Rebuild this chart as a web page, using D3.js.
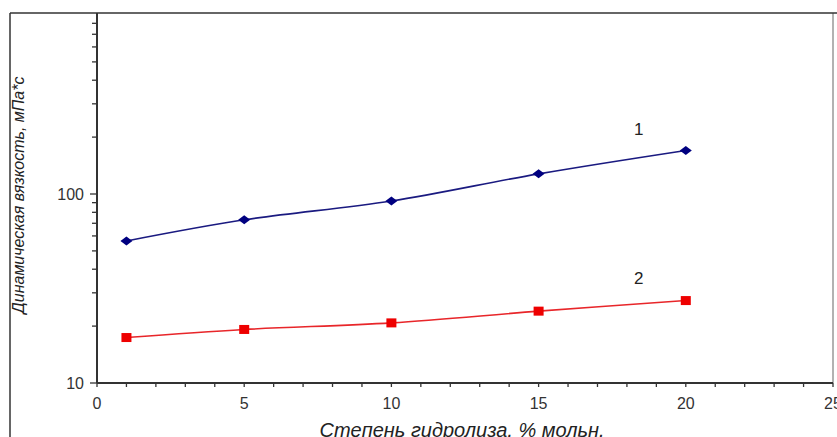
<!DOCTYPE html>
<html><head><meta charset="utf-8">
<script src="https://cdn.jsdelivr.net/npm/d3@7"></script>
<style>body{margin:0;background:#fff}svg{display:block}</style>
</head><body><svg id="c" width="837" height="437"></svg>
<script>
const xValues = [1, 5, 10, 15, 20];
const series1 = [56.4, 73, 91.8, 127.8, 170];
const series2 = [17.4, 19.2, 20.8, 24.0, 27.3];
const seriesLabels = ["1", "2"];
const xTicks = [0, 5, 10, 15, 20, 25];
const yTicks = [10, 100];
const xTitle = "Степень гидролиза, % мольн.";
const yTitle = "Динамическая вязкость, мПа*с";

const svg = d3.select("#c");
const x = d3.scaleLinear().domain([0, 25]).range([97, 833]);
const y = d3.scaleLog().domain([10, 1000]).range([383, 5]);
const font = "'Liberation Sans', Arial, sans-serif";

// right plot border
svg.append("line").attr("x1", 833).attr("x2", 833).attr("y1", 13).attr("y2", 383)
  .attr("stroke", "#999").attr("stroke-width", 1.5);

// y axis
const minorY = [];
for (let d = 10; d < 1000; d *= 10) for (let k = 2; k <= 9; k++) minorY.push(d * k);
const minorYVis = minorY.filter(d => y(d) >= 14);
const gy = svg.append("g").attr("transform", "translate(97,0)");
gy.append("line").attr("y1", 13).attr("y2", 383).attr("stroke", "#333").attr("stroke-width", 2);
gy.selectAll(".mn").data(minorYVis).join("line").attr("x1", -5).attr("x2", 0)
  .attr("y1", d => y(d)).attr("y2", d => y(d)).attr("stroke", "#333").attr("stroke-width", 1.3);
gy.selectAll(".mj").data(yTicks).join("line").attr("x1", -7).attr("x2", 0)
  .attr("y1", d => y(d)).attr("y2", d => y(d)).attr("stroke", "#333").attr("stroke-width", 1.3);
gy.selectAll("text").data(yTicks).join("text").attr("x", -13).attr("y", d => y(d)).attr("dy", "0.35em")
  .attr("text-anchor", "end").attr("font-family", font).attr("font-size", 16).attr("fill", "#333").text(d => d);

// x axis
const minorX = d3.range(0, 26, 1);
const gx = svg.append("g").attr("transform", "translate(0,383)");
gx.append("line").attr("x1", 97).attr("x2", 833).attr("stroke", "#333").attr("stroke-width", 2);
gx.selectAll(".mn").data(minorX).join("line").attr("x1", d => x(d)).attr("x2", d => x(d))
  .attr("y1", 0).attr("y2", 4).attr("stroke", "#333").attr("stroke-width", 1.3);
gx.selectAll("text").data(xTicks).join("text").attr("x", d => x(d)).attr("y", 20)
  .attr("dy", "0.35em").attr("text-anchor", "middle").attr("font-family", font).attr("font-size", 16).attr("fill", "#333").text(d => d);

// lines
const line = d3.line().x(d => x(d[0])).y(d => y(d[1])).curve(d3.curveCatmullRom.alpha(0.5));
const d1 = xValues.map((v, i) => [v, series1[i]]);
const d2 = xValues.map((v, i) => [v, series2[i]]);
svg.append("path").datum(d1).attr("d", line).attr("fill", "none").attr("stroke", "#1a1a80").attr("stroke-width", 1.6);
svg.append("path").datum(d2).attr("d", line).attr("fill", "none").attr("stroke", "#e8262a").attr("stroke-width", 1.6);

svg.selectAll(".dm").data(d1).join("path")
  .attr("transform", d => `translate(${x(d[0])},${y(d[1])})`)
  .attr("d", "M-6,0L0,-4.5L6,0L0,4.5Z").attr("fill", "#000080");
svg.selectAll(".sq").data(d2).join("rect")
  .attr("x", d => x(d[0]) - 5).attr("y", d => y(d[1]) - 4.5).attr("width", 10).attr("height", 9).attr("fill", "#ee0000");

// series labels
svg.append("text").attr("x", x(18.4)).attr("y", y(170) - 21).attr("dy", "0.35em").attr("text-anchor", "middle")
  .attr("font-family", font).attr("font-size", 17).attr("fill", "#222").text(seriesLabels[0]);
svg.append("text").attr("x", x(18.4)).attr("y", y(27.3) - 23).attr("dy", "0.35em").attr("text-anchor", "middle")
  .attr("font-family", font).attr("font-size", 17).attr("fill", "#222").text(seriesLabels[1]);

// titles
svg.append("text").attr("x", 462).attr("y", 437).attr("text-anchor", "middle")
  .attr("font-family", font).attr("font-style", "italic").attr("font-size", 20).attr("fill", "#222").text(xTitle);
svg.append("text").attr("transform", "translate(18,195) rotate(-90)").attr("dy", "0.35em").attr("text-anchor", "middle")
  .attr("font-family", font).attr("font-style", "italic").attr("font-size", 16).attr("fill", "#222").text(yTitle);

// outer frame
svg.append("line").attr("x1", 10).attr("x2", 837).attr("y1", 13).attr("y2", 13).attr("stroke", "#333").attr("stroke-width", 1.5);
svg.append("line").attr("x1", 10).attr("x2", 10).attr("y1", 13).attr("y2", 437).attr("stroke", "#333").attr("stroke-width", 1.5);
</script></body></html>
